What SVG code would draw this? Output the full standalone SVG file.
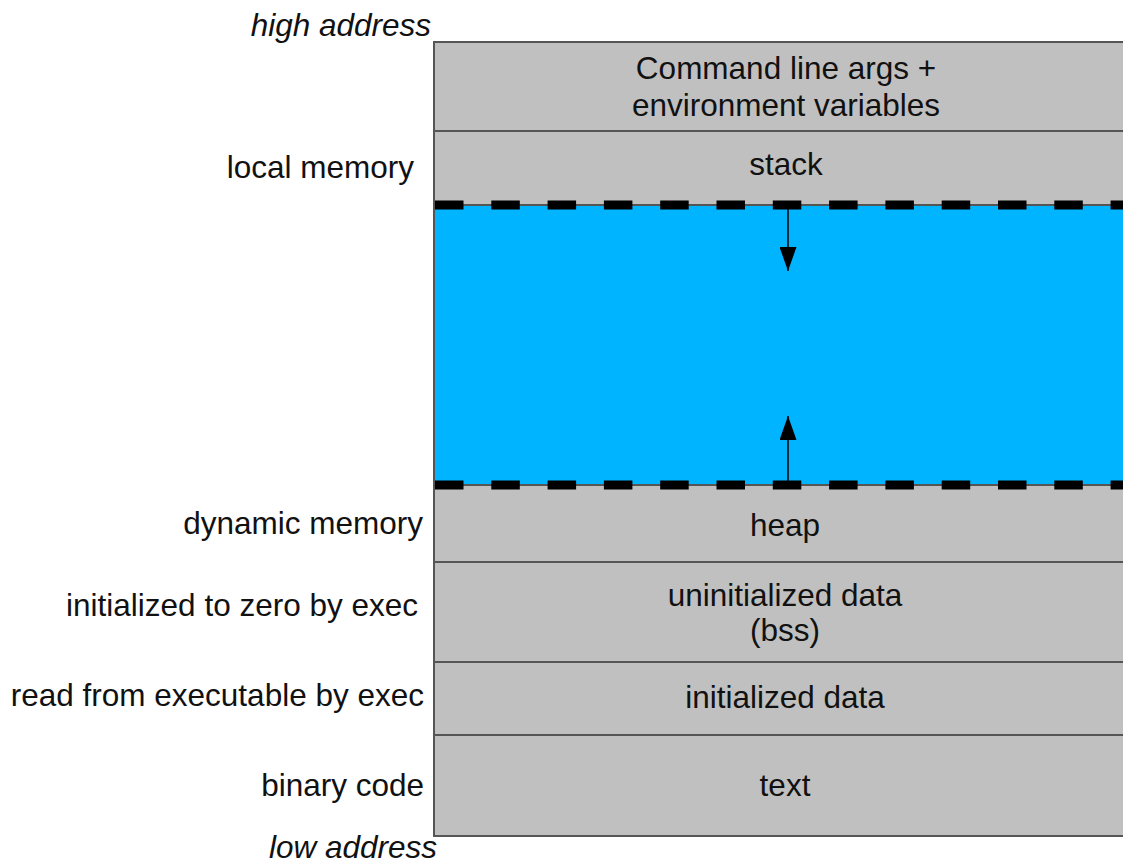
<svg xmlns="http://www.w3.org/2000/svg" width="1123" height="865" viewBox="0 0 1123 865">
<defs>
<style>
.seg{fill:#c0c0c0;stroke:#555;stroke-width:2}
.t{font-family:"Liberation Sans",Arial,sans-serif;font-size:31.5px;fill:#111}
.c{text-anchor:middle}
.r{text-anchor:end}
.i{font-style:italic}
.dash{stroke:#000;stroke-width:9;stroke-dasharray:28.5 27.8;fill:none}
.arr{stroke:#000;stroke-width:1.5;fill:none}
</style>
<marker id="ah" viewBox="0 0 24 17" refX="24" refY="8.5" markerWidth="24" markerHeight="17" markerUnits="userSpaceOnUse" orient="auto">
<path d="M0,0 L24,8.5 L0,17 Z" fill="#000"/>
</marker>
</defs>
<rect width="1123" height="865" fill="#fff"/>
<g id="labels">
<text class="t r i" x="431" y="36">high address</text>
<text class="t r" x="414" y="178">local memory</text>
<text class="t r" x="423" y="534">dynamic memory</text>
<text class="t r" x="418" y="616">initialized to zero by exec</text>
<text class="t r" x="424" y="706">read from executable by exec</text>
<text class="t r" x="424" y="796">binary code</text>
<text class="t r i" x="437" y="858">low address</text>
</g>
<g id="cmdline">
<rect class="seg" x="434" y="42" width="710" height="89"/>
<text class="t c" x="786" y="79">Command line args +</text>
<text class="t c" x="786" y="116">environment variables</text>
</g>
<g id="stack">
<rect class="seg" x="434" y="131" width="710" height="74"/>
<text class="t c" x="786" y="175">stack</text>
</g>
<g id="free">
<rect x="434" y="205" width="710" height="280" fill="#00b4ff" stroke="#555" stroke-width="2"/>
</g>
<g id="heap">
<rect class="seg" x="434" y="485" width="710" height="77"/>
<text class="t c" x="785" y="536">heap</text>
</g>
<g id="bss">
<rect class="seg" x="434" y="562" width="710" height="100"/>
<text class="t c" x="785" y="606">uninitialized data</text>
<text class="t c" x="785" y="641">(bss)</text>
</g>
<g id="data">
<rect class="seg" x="434" y="662" width="710" height="73"/>
<text class="t c" x="785" y="708">initialized data</text>
</g>
<g id="text">
<rect class="seg" x="434" y="735" width="710" height="101"/>
<text class="t c" x="785" y="796">text</text>
</g>
<g id="connectors">
<line class="dash" x1="435" y1="205" x2="1123" y2="205"/>
<line class="dash" x1="435" y1="485" x2="1123" y2="485"/>
<line class="arr" x1="788" y1="205" x2="788" y2="271" marker-end="url(#ah)"/>
<line class="arr" x1="788" y1="485" x2="788" y2="416" marker-end="url(#ah)"/>
</g>
</svg>
